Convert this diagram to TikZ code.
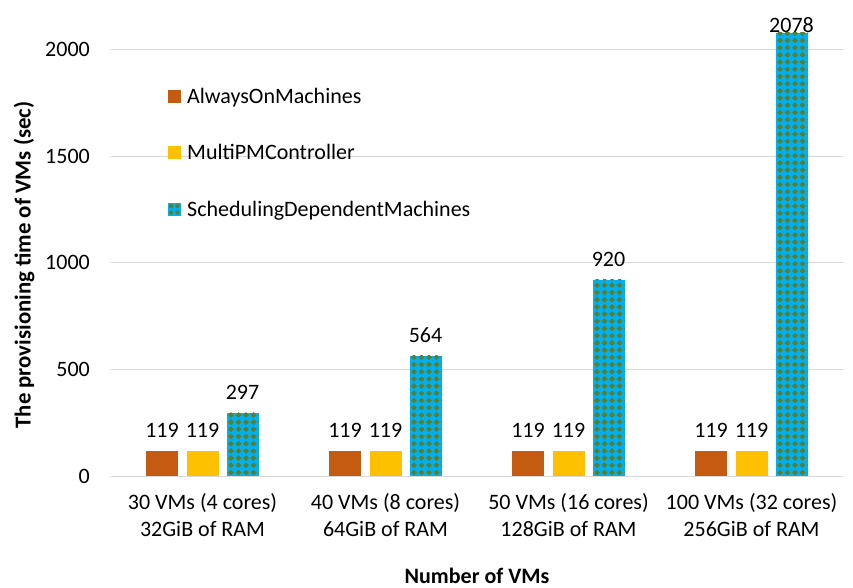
\documentclass[tikz,border=0pt]{standalone}
\usepackage{fontspec}
\setmainfont{Carlito}
\usetikzlibrary{calc}
\definecolor{barorange}{HTML}{C55A11}
\definecolor{baryellow}{HTML}{FFC000}
\definecolor{barblue}{HTML}{00B0F0}
\definecolor{bargreen}{HTML}{5A7E2C}
\definecolor{gridgray}{HTML}{D9D9D9}
\tikzset{
  gridline/.style={draw=gridgray, line width=1pt},
  ticklabel/.style={anchor=east, inner sep=0pt},
  vallabel/.style={anchor=base, inner sep=0pt},
  catlabel/.style={anchor=base, inner sep=0pt},
  axtitle/.style={font=\fontsize{22}{26}\selectfont\bfseries, inner sep=0pt},
  legtext/.style={anchor=base west, inner sep=0pt},
  legbox/.style={minimum size=12.5pt, inner sep=0pt, draw=none},
}
\begin{document}
\begin{tikzpicture}[x=1pt, y=-1pt, font=\fontsize{22}{26}\selectfont]
\useasboundingbox (0,0) rectangle (853,587);
% value axis: 0 at y=476, 2000 at y=49.5
\pgfmathsetmacro{\yzero}{476}
\pgfmathsetmacro{\yscale}{0.21325}

% horizontal gridlines and tick labels
\foreach \v in {500,1000,1500,2000} {
  \draw[gridline] (111,{\yzero-\v*\yscale}) -- (843,{\yzero-\v*\yscale});
}
\foreach \v in {0,500,1000,1500,2000} {
  \node[ticklabel] (tick\v) at (90,{\yzero-\v*\yscale}) {\v};
}

% plain bars (first two series)
\foreach \g in {0,1,2,3} {
  \pgfmathsetmacro{\cx}{202.5+183*\g}
  \pgfmathsetmacro{\top}{\yzero-119*\yscale}
  \fill[barorange] ({\cx-40.5-16},\yzero) rectangle ({\cx-40.5+16},\top);
  \fill[baryellow] ({\cx-16},\yzero) rectangle ({\cx+16},\top);
  \node[vallabel] (va\g) at ({\cx-40.5},{\top-13}) {119};
  \node[vallabel] (vb\g) at (\cx,{\top-13}) {119};
}

% patterned bars (third series): blue fill with a grid of green diamonds
\foreach \g/\val in {0/297,1/564,2/920,3/2078} {
  \pgfmathsetmacro{\xl}{202.5+183*\g+40.5-16}
  \pgfmathsetmacro{\xr}{\xl+32}
  \pgfmathsetmacro{\top}{\yzero-\val*\yscale}
  \pgfmathtruncatemacro{\nrows}{(\yzero-\top)/7.2+1}
  \begin{scope}
    \clip (\xl,\yzero) rectangle (\xr,\top);
    \fill[barblue] (\xl,\yzero) rectangle (\xr,\top);
    \foreach \j in {0,...,\nrows} {
      \foreach \k in {0,...,4} {
        \fill[bargreen] ({\xl+4+7.5*\k},{\yzero-3.5-7.2*\j})
          +(-2.9,0) -- +(0,-2.9) -- +(2.9,0) -- +(0,2.9) -- cycle;
      }
    }
  \end{scope}
}
\node[vallabel] (vc0) at (242.5,{\yzero-297*\yscale-13}) {297};
\node[vallabel] (vc1) at (425.5,{\yzero-564*\yscale-13}) {564};
\node[vallabel] (vc2) at (608.5,{\yzero-920*\yscale-13}) {920};
\node[vallabel] (vc3) at (791.5,32) {2078};

% category axis line
\draw[gridline] (111,\yzero) -- (843,\yzero);

% category labels
\foreach \g/\la/\lb in {0/{30 VMs (4 cores)}/{32GiB of RAM},
                        1/{40 VMs (8 cores)}/{64GiB of RAM},
                        2/{50 VMs (16 cores)}/{128GiB of RAM},
                        3/{100 VMs (32 cores)}/{256GiB of RAM}} {
  \node[catlabel] (cata\g) at ({202.5+183*\g},509) {\la};
  \node[catlabel] (catb\g) at ({202.5+183*\g},536) {\lb};
}

% axis titles
\node[axtitle, anchor=base] (xtitle) at (477,583) {Number of VMs};
\node[axtitle, font=\fontsize{22.8}{26}\selectfont\bfseries, rotate=90] (ytitle) at (24,265) {The provisioning time of VMs (sec)};

% legend
\node[legbox, fill=barorange] (key1) at (174.25,96.4) {};
\node[legtext] (lab1) at (187,103.5) {AlwaysOnMachines};
\node[legbox, fill=baryellow] (key2) at (174.25,152.7) {};
\node[legtext] (lab2) at (187,159.8) {MultiPMController};
\node[legbox, fill=barblue] (key3) at (174.25,209.3) {};
\fill[bargreen] ($(key3.center)+(-3.2,-3.2)$) circle (2.2pt)
                ($(key3.center)+(3.2,-3.2)$) circle (2.2pt)
                ($(key3.center)+(-3.2,3.2)$) circle (2.2pt)
                ($(key3.center)+(3.2,3.2)$) circle (2.2pt);
\node[legtext] (lab3) at (187,216.4) {SchedulingDependentMachines};
\end{tikzpicture}
\end{document}
